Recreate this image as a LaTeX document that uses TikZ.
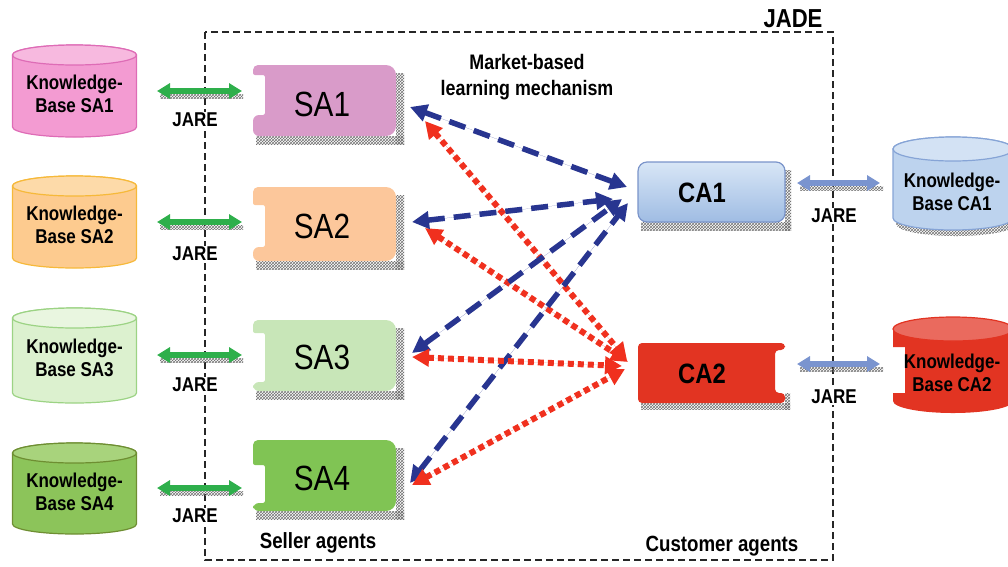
\documentclass[tikz,border=0pt]{standalone}
\usepackage{fontspec}
\setmainfont{Liberation Sans}[FakeStretch=0.85]
\usetikzlibrary{arrows.meta,patterns}

\definecolor{kbApink}{HTML}{F39BD2}
\definecolor{kbApinkTop}{HTML}{F7B9DF}
\definecolor{kbApinkLine}{HTML}{DE6CB6}
\definecolor{kbBorange}{HTML}{FDCB8F}
\definecolor{kbBorangeTop}{HTML}{FDDAA9}
\definecolor{kbBorangeLine}{HTML}{F6B93A}
\definecolor{kbCgreen}{HTML}{DCF1CF}
\definecolor{kbCgreenTop}{HTML}{E9F6E0}
\definecolor{kbCgreenLine}{HTML}{9CD384}
\definecolor{kbDgreen}{HTML}{8CC45A}
\definecolor{kbDgreenTop}{HTML}{A8D37C}
\definecolor{kbDgreenLine}{HTML}{6E8E32}
\definecolor{saA}{HTML}{D99BC9}
\definecolor{saB}{HTML}{FCC79B}
\definecolor{saC}{HTML}{C8E6B8}
\definecolor{saD}{HTML}{80C454}
\definecolor{caTop}{HTML}{D8E6F6}
\definecolor{caBot}{HTML}{9FBCE3}
\definecolor{caLine}{HTML}{7A94CA}
\definecolor{kbBlue}{HTML}{BDD3EE}
\definecolor{kbBlueTop}{HTML}{D3E2F4}
\definecolor{kbBlueLine}{HTML}{86A4D6}
\definecolor{caRed}{HTML}{E23422}
\definecolor{caRedTop}{HTML}{EA6A5E}
\definecolor{jareGreen}{HTML}{2EAF4B}
\definecolor{jareBlue}{HTML}{7A94CF}
\definecolor{navyLink}{HTML}{283590}
\definecolor{redLink}{HTML}{F0301E}

% cylinder body: centre x, top y, bottom y, x radius, y radius, style
\newcommand\kbbody[6]{%
  \path[#6] ({#1-#4},{#2+#5}) -- ({#1-#4},{#3-#5})
    .. controls ({#1-#4},{#3-#5+0.5523*#5}) and ({#1-0.5523*#4},#3) .. (#1,#3)
    .. controls ({#1+0.5523*#4},#3) and ({#1+#4},{#3-#5+0.5523*#5}) .. ({#1+#4},{#3-#5})
    -- ({#1+#4},{#2+#5})
    .. controls ({#1+#4},{#2+#5-0.5523*#5}) and ({#1+0.5523*#4},#2) .. (#1,#2)
    .. controls ({#1-0.5523*#4},#2) and ({#1-#4},{#2+#5-0.5523*#5}) .. cycle;}
% cylinder lid
\newcommand\kbtop[6]{%
  \path[#6] (#1,{#2+#5}) ellipse [x radius=#4pt, y radius=#5pt];}
% seller agent box with a notch on its left side: x1, x2, top, bottom, notch top, notch bottom, fill
\newcommand\sabox[7]{%
  \fill[shade band] ({#1+3},#4) rectangle ({#2+8},{#4+8});
  \fill[shade band] (#2,{#3+8}) rectangle ({#2+8},{#4+8});
  \path[fill=#7] ({(#1+#2)/2},#3) [rounded corners=10pt] -- (#2,#3) -- (#2,#4)
    [rounded corners=6pt] -- (#1,#4) -- (#1,#6) [rounded corners=2pt] -- ({#1+12},#6)
    -- ({#1+12},#5) -- (#1,#5) [rounded corners=5pt] -- (#1,#3) -- cycle;}

\begin{document}
\begin{tikzpicture}[x=1pt,y=-1pt,
  shade band/.style={pattern=crosshatch, pattern color=black!55},
  kbtext/.style={font=\bfseries\fontsize{20}{22.5}\selectfont, align=center, inner sep=0pt},
  jarelabel/.style={font=\bfseries\fontsize{20}{22}\selectfont, fill=white, inner sep=1.5pt},
  seller/.style={font=\fontsize{35}{37}\selectfont, inner sep=0pt},
  customer/.style={font=\bfseries\fontsize{28}{30}\selectfont, inner sep=0pt},
  caption/.style={font=\bfseries\fontsize{22}{26}\selectfont, align=center, inner sep=0pt},
  jadeline/.style={draw=black!85, line width=1.7pt, dash pattern=on 7pt off 4pt},
  tipA/.tip={Triangle[length=13pt,width=15pt]},
  tipB/.tip={Triangle[length=17pt,width=17pt]},
  jarearrow/.style={line width=5.5pt, tipA-tipA},
  bluelink/.style={draw=navyLink, line width=5.5pt, dash pattern=on 17pt off 9pt,
    tipB-tipB},
  redlink/.style={draw=redLink, line width=6pt, dash pattern=on 6pt off 4pt,
    tipB-tipB}]
\useasboundingbox (0,0) rectangle (1008,566);

% JADE platform frame
\draw[jadeline] (205,32) rectangle (833,560);
\node[font=\bfseries\fontsize{26}{28}\selectfont, inner sep=0pt] (jade) at (793,19) {JADE};

% knowledge bases of the seller agents
\kbbody{74.5}{45}{137}{62}{10}{fill=kbApink, draw=kbApinkLine, line width=1.2pt}
\kbtop{74.5}{45}{137}{62}{10}{fill=kbApinkTop, draw=kbApinkLine, line width=1.2pt}
\node[kbtext] (kb1) at (74.5,94) {Knowledge-\\Base SA1};
\kbbody{74.5}{176}{268}{62}{10}{fill=kbBorange, draw=kbBorangeLine, line width=1.2pt}
\kbtop{74.5}{176}{268}{62}{10}{fill=kbBorangeTop, draw=kbBorangeLine, line width=1.2pt}
\node[kbtext] (kb2) at (74.5,225) {Knowledge-\\Base SA2};
\kbbody{74.5}{308}{403}{62}{10}{fill=kbCgreen, draw=kbCgreenLine, line width=1.2pt}
\kbtop{74.5}{308}{403}{62}{10}{fill=kbCgreenTop, draw=kbCgreenLine, line width=1.2pt}
\node[kbtext] (kb3) at (74.5,358) {Knowledge-\\Base SA3};
\kbbody{74.5}{443}{534}{62}{10}{fill=kbDgreen, draw=kbDgreenLine, line width=1.2pt}
\kbtop{74.5}{443}{534}{62}{10}{fill=kbDgreenTop, draw=kbDgreenLine, line width=1.2pt}
\node[kbtext] (kb4) at (74.5,492) {Knowledge-\\Base SA4};

% seller agents
\sabox{253}{396}{65}{136}{75}{115}{saA}
\node[seller] (sa1) at (322,104) {SA1};
\sabox{253}{396}{187}{261}{205}{247}{saB}
\node[seller] (sa2) at (322,226) {SA2};
\sabox{253}{396}{320}{391}{333}{382}{saC}
\node[seller] (sa3) at (322,357) {SA3};
\sabox{253}{396}{440}{511}{465}{503}{saD}
\node[seller] (sa4) at (322,478) {SA4};

% customer agent CA1
\fill[shade band] (641,222) rectangle (791,230);
\fill[shade band] (785,170) rectangle (791,230);
\path[top color=caTop, bottom color=caBot, draw=caLine, line width=1.2pt, rounded corners=9pt]
  (638,162) rectangle (785,222);
\node[customer] (ca1) at (702,193) {CA1};

% customer agent CA2 with a notch on its right side
\fill[shade band] (641,403) rectangle (790,409);
\fill[shade band] (785,393) rectangle (790,409);
\path[fill=caRed, rounded corners=4pt] (711,343) -- (785,343) -- (785,350) -- (775,350)
  -- (775,393) -- (785,393) -- (785,403) -- (638,403) -- (638,343) -- cycle;
\node[customer] (ca2) at (702,374) {CA2};

% knowledge base of CA1
\begin{scope}[shift={(3,6)}]
  \kbbody{953}{137}{230}{60}{12}{shade band}
\end{scope}
\kbbody{953}{137}{230}{60}{12}{fill=kbBlue, draw=kbBlueLine, line width=1.2pt}
\kbtop{953}{137}{230}{60}{12}{fill=kbBlueTop, draw=kbBlueLine, line width=1.2pt}
\node[kbtext] (kbc1) at (952,192) {Knowledge-\\Base CA1};

% knowledge base of CA2, notched on its left side
\path[fill=caRed] (893,329) -- (893,347) -- (905,347) -- (905,393) -- (893,393) -- (893,401)
    .. controls (893,407.6) and (919.9,413) .. (953,413)
    .. controls (986.1,413) and (1013,407.6) .. (1013,401)
    -- (1013,329)
    .. controls (1013,322.4) and (986.1,317) .. (953,317)
    .. controls (919.9,317) and (893,322.4) .. cycle;
\kbtop{953}{317}{413}{60}{12}{fill=caRedTop, draw=caRed, line width=1.2pt}
\node[kbtext] (kbc2) at (952,373) {Knowledge-\\Base CA2};

% JARE links between agents and their knowledge bases
\foreach \yy/\nm in {91/j1, 222/j2, 355/j3, 488/j4}{
  \fill[shade band] (160,{\yy+3}) rectangle (243,{\yy+7});
  \coordinate (\nm w) at (157,\yy);
  \coordinate (\nm e) at (242,\yy);
  \draw[jarearrow, draw=jareGreen, fill=jareGreen] (\nm w) -- (\nm e);
}
\foreach \yy/\nm in {183/k1, 364/k2}{
  \fill[shade band] (800,{\yy+3}) rectangle (883,{\yy+7});
  \coordinate (\nm w) at (797,\yy);
  \coordinate (\nm e) at (880,\yy);
  \draw[jarearrow, draw=jareBlue, fill=jareBlue] (\nm w) -- (\nm e);
}
\node[jarelabel] (jare1) at (195,120) {JARE};
\node[jarelabel] (jare2) at (195,254) {JARE};
\node[jarelabel] (jare3) at (195,385) {JARE};
\node[jarelabel] (jare4) at (195,516) {JARE};
\node[jarelabel] (jare5) at (834,216) {JARE};
\node[jarelabel] (jare6) at (834,397) {JARE};

% market-based learning links
\coordinate (sa1b) at (410,107);  \coordinate (ca1a) at (627,187);
\coordinate (sa2b) at (412,222);  \coordinate (ca1b) at (613,199);
\coordinate (sa3b) at (412,353);  \coordinate (ca1c) at (622,199);
\coordinate (sa4b) at (410,483);  \coordinate (ca1d) at (628,203);
\coordinate (sa1r) at (425,121);  \coordinate (ca2a) at (627,360);
\coordinate (sa2r) at (425,228);  \coordinate (ca2b) at (628,362);
\coordinate (sa3r) at (412,357);  \coordinate (ca2c) at (622,366);
\coordinate (sa4r) at (412,485);  \coordinate (ca2d) at (625,369);

\draw[redlink, fill=redLink] (sa1r) -- (ca2a);
\draw[redlink, fill=redLink] (sa2r) -- (ca2b);
\draw[bluelink, fill=navyLink] (sa1b) -- (ca1a);
\draw[bluelink, fill=navyLink] (sa2b) -- (ca1b);
\draw[bluelink, fill=navyLink] (sa3b) -- (ca1c);
\draw[bluelink, fill=navyLink] (sa4b) -- (ca1d);
\draw[redlink, fill=redLink] (sa3r) -- (ca2c);
\draw[redlink, fill=redLink] (sa4r) -- (ca2d);

% captions
\node[caption, font=\bfseries\fontsize{21}{26}\selectfont] (mech) at (527,77) {Market-based\\learning mechanism};
\node[caption] (sellers) at (318,543) {Seller agents};
\node[caption] (customers) at (722,546) {Customer agents};
\end{tikzpicture}
\end{document}
